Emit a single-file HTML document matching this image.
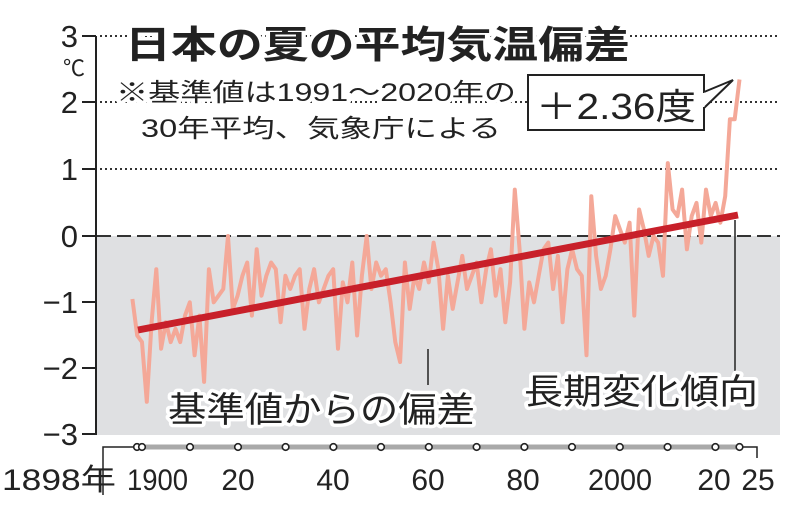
<!DOCTYPE html>
<html><head><meta charset="utf-8"><style>
html,body{margin:0;padding:0;background:#fff;}
svg{display:block;}
text{font-family:"Liberation Sans","Noto Sans CJK JP",sans-serif;fill:#222;}
.h{paint-order:stroke;stroke:#fff;stroke-width:7px;stroke-linejoin:round;}
</style></head><body>
<svg width="800" height="513" viewBox="0 0 800 513" xmlns="http://www.w3.org/2000/svg">
<rect x="97" y="236" width="683" height="199" fill="#dfe0e2"/>
<g stroke="#333" stroke-width="2" stroke-dasharray="2,3">
<line x1="100" y1="36" x2="780" y2="36"/>
<line x1="100" y1="102" x2="780" y2="102"/>
<line x1="100" y1="169" x2="780" y2="169"/>
</g>
<line x1="97" y1="236" x2="780" y2="236" stroke="#333" stroke-width="2" stroke-dasharray="14,6"/>
<g stroke="#222" stroke-width="2">
<line x1="96" y1="36" x2="96" y2="435"/>
<line x1="82" y1="36" x2="96" y2="36"/>
<line x1="82" y1="102" x2="96" y2="102"/>
<line x1="82" y1="169" x2="96" y2="169"/>
<line x1="82" y1="236" x2="96" y2="236"/>
<line x1="82" y1="302" x2="96" y2="302"/>
<line x1="82" y1="368" x2="96" y2="368"/>
<line x1="82" y1="434" x2="96" y2="434"/>
</g>
<g font-size="31" text-anchor="end">
<text x="78" y="47">3</text>
<text x="78" y="113">2</text>
<text x="78" y="180">1</text>
<text x="78" y="247">0</text>
<text x="78" y="313">−1</text>
<text x="78" y="379">−2</text>
<text x="78" y="445">−3</text>
</g>
<text x="63" y="76" font-size="22">℃</text>
<polyline fill="none" stroke="#f4a898" stroke-width="4" stroke-linejoin="round" points="132.4,299.0 137.2,335.5 142.0,342.1 146.8,401.8 151.6,322.2 156.3,269.2 161.1,348.7 165.9,322.2 170.7,342.1 175.5,328.8 180.2,342.1 185.0,315.6 189.8,302.3 194.6,355.3 199.4,315.6 204.1,381.9 208.9,269.2 213.7,302.3 218.5,295.7 223.3,289.0 228.0,236 232.8,308.9 237.6,295.7 242.4,275.8 247.2,262.5 251.9,315.6 256.7,249.3 261.5,295.7 266.3,275.8 271.1,262.5 275.8,269.2 280.6,322.2 285.4,275.8 290.2,289.0 295.0,275.8 299.7,269.2 304.5,328.8 309.3,289.0 314.1,269.2 318.9,302.3 323.6,289.0 328.4,275.8 333.2,269.2 338.0,348.7 342.8,282.4 347.5,302.3 352.3,262.5 357.1,335.5 361.9,275.8 366.7,236 371.4,289.0 376.2,262.5 381.0,275.8 385.8,269.2 390.6,302.3 395.3,342.1 400.1,362.0 404.9,262.5 409.7,308.9 414.5,275.8 419.2,289.0 424.0,262.5 428.8,282.4 433.6,242.6 438.4,269.2 443.1,328.8 447.9,275.8 452.7,308.9 457.5,282.4 462.3,255.9 467.0,289.0 471.8,275.8 476.6,262.5 481.4,302.3 486.2,269.2 490.9,249.3 495.7,295.7 500.5,269.2 505.3,322.2 510.1,282.4 514.8,189.6 519.6,249.3 524.4,328.8 529.2,282.4 534.0,302.3 538.7,275.8 543.5,249.3 548.3,242.6 553.1,289.0 557.9,255.9 562.6,322.2 567.4,269.2 572.2,249.3 577.0,269.2 581.8,275.8 586.5,355.3 591.3,196.2 596.1,255.9 600.9,289.0 605.7,275.8 610.4,249.3 615.2,216.1 620.0,229.4 624.8,242.6 629.6,222.7 634.3,315.6 639.1,209.5 643.9,229.4 648.7,255.9 653.5,236 658.2,242.6 663.0,275.8 667.8,163.1 672.6,209.5 677.4,216.1 682.1,189.6 686.9,249.3 691.7,216.1 696.5,202.9 701.3,242.6 706.0,189.6 710.8,216.1 715.6,202.9 720.4,222.7 725.2,196.2 729.9,119.3 734.7,119.3 739.5,79.5"/>
<line x1="138" y1="330" x2="738" y2="215" stroke="#c8202a" stroke-width="7"/>
<line x1="428" y1="349" x2="428" y2="385" stroke="#222" stroke-width="1.5"/>
<line x1="735" y1="220" x2="735" y2="375" stroke="#222" stroke-width="1.5"/>
<text class="h" x="125" y="58" font-size="38" font-weight="bold" textLength="505" lengthAdjust="spacingAndGlyphs">日本の夏の平均気温偏差</text>
<text class="h" x="116" y="101" font-size="25" textLength="400" lengthAdjust="spacingAndGlyphs">※基準値は1991～2020年の</text>
<text class="h" x="141" y="137" font-size="25" textLength="360" lengthAdjust="spacingAndGlyphs">30年平均、気象庁による</text>
<rect x="528" y="75" width="176" height="55" fill="#fff" stroke="#222" stroke-width="2"/>
<polyline points="704,92 733,80 704,108" fill="#fff" stroke="#222" stroke-width="2"/>
<line x1="703" y1="93" x2="703" y2="107" stroke="#fff" stroke-width="3"/>
<text x="536" y="119" font-size="36" textLength="160" lengthAdjust="spacingAndGlyphs">＋2.36度</text>
<text class="h" x="168" y="422" font-size="35" textLength="307" lengthAdjust="spacingAndGlyphs">基準値からの偏差</text>
<text class="h" x="524" y="404" font-size="35" textLength="234" lengthAdjust="spacingAndGlyphs">長期変化傾向</text>
<line x1="138" y1="447" x2="740" y2="447" stroke="#a9a9a9" stroke-width="5"/>
<polyline points="103,495 103,447 135,447" fill="none" stroke="#222" stroke-width="1.5"/>
<polyline points="740,447 757,447 757,458" fill="none" stroke="#222" stroke-width="1.5"/>
<g fill="#fff" stroke="#222" stroke-width="1.6">
<circle cx="137" cy="447" r="3.3"/><circle cx="142" cy="447" r="3.3"/><circle cx="190" cy="447" r="3.3"/><circle cx="238" cy="447" r="3.3"/><circle cx="285.6" cy="447" r="3.3"/><circle cx="333.4" cy="447" r="3.3"/><circle cx="381" cy="447" r="3.3"/><circle cx="428.8" cy="447" r="3.3"/><circle cx="476.6" cy="447" r="3.3"/><circle cx="524.4" cy="447" r="3.3"/><circle cx="572" cy="447" r="3.3"/><circle cx="619.8" cy="447" r="3.3"/><circle cx="667.6" cy="447" r="3.3"/><circle cx="715.4" cy="447" r="3.3"/><circle cx="739.5" cy="447" r="3.3"/>
</g>
<g font-size="30">
<text x="2" y="490" textLength="114" lengthAdjust="spacingAndGlyphs">1898年</text>
<text x="127" y="490" textLength="61" lengthAdjust="spacingAndGlyphs">1900</text>
<text x="238" y="490" text-anchor="middle">20</text>
<text x="333" y="490" text-anchor="middle">40</text>
<text x="428" y="490" text-anchor="middle">60</text>
<text x="523" y="490" text-anchor="middle">80</text>
<text x="588" y="490" textLength="64" lengthAdjust="spacingAndGlyphs">2000</text>
<text x="714" y="490" text-anchor="middle">20</text>
<text x="758" y="490" text-anchor="middle">25</text>
</g>
</svg>
</body></html>
